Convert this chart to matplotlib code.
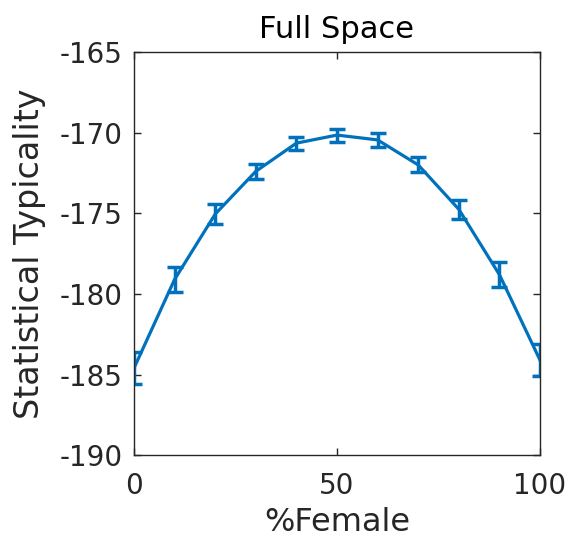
import numpy as np
import matplotlib
matplotlib.use('Agg')
import matplotlib.pyplot as plt

plt.rcParams['axes.unicode_minus'] = False

# values
pct_female = [0, 10, 20, 30, 40, 50, 60, 70, 80, 90, 100]
typicality = [-184.6, -179.1, -175.05, -172.4, -170.65, -170.15, -170.45, -172.0, -174.75, -178.8, -184.1]
err = [1.0, 0.78, 0.6, 0.47, 0.4, 0.4, 0.43, 0.47, 0.6, 0.78, 0.97]

blue = '#0072BD'
dark = '#262626'

fig = plt.figure(figsize=(5.69, 5.4), dpi=100)
ax = fig.add_axes([0.2355, 0.157, 0.7135, 0.7467])

ax.errorbar(pct_female, typicality, yerr=err, color=blue, lw=2.3,
            elinewidth=2.5, capsize=5.5, capthick=2.5)

ax.set_xlim(0, 100)
ax.set_ylim(-190, -165)
ax.set_xticks([0, 50, 100])
ax.set_yticks([-190, -185, -180, -175, -170, -165])
ax.tick_params(direction='in', top=True, right=True, labelsize=20,
               colors=dark, length=5, width=1)
ax.tick_params(axis='x', pad=12)
ax.tick_params(axis='y', pad=8)
for s in ax.spines.values():
    s.set_color(dark)
    s.set_linewidth(1)

ax.set_xlabel('%Female', fontsize=23, color=dark, labelpad=5)
ax.set_ylabel('Statistical Typicality', fontsize=24, color=dark, labelpad=10)
ax.set_title('Full Space', fontsize=22, color='black', pad=10)

fig.savefig('out.png', dpi=100)
